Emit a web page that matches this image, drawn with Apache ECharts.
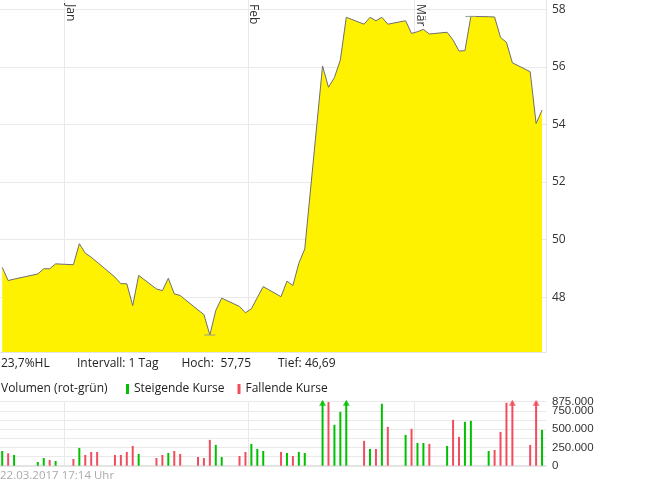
<!DOCTYPE html>
<html><head><meta charset="utf-8">
<script src="https://cdn.jsdelivr.net/npm/echarts@6/dist/echarts.min.js"></script>
<style>html,body{margin:0;padding:0;background:#fff}#c{width:645px;height:483px}</style>
</head><body><div id="c"></div>
<script>
// ---- data ----
const dates = [
 '2016-12-21','2016-12-22','2016-12-23','2016-12-27','2016-12-28','2016-12-29','2016-12-30',
 '2017-01-02','2017-01-03','2017-01-04','2017-01-05','2017-01-06','2017-01-09','2017-01-10','2017-01-11','2017-01-12','2017-01-13',
 '2017-01-16','2017-01-17','2017-01-18','2017-01-19','2017-01-20','2017-01-23','2017-01-24','2017-01-25','2017-01-26','2017-01-27',
 '2017-01-30','2017-01-31','2017-02-01','2017-02-02','2017-02-03','2017-02-06','2017-02-07','2017-02-08','2017-02-09','2017-02-10',
 '2017-02-13','2017-02-14','2017-02-15','2017-02-16','2017-02-17','2017-02-20','2017-02-21','2017-02-22','2017-02-23','2017-02-24',
 '2017-02-27','2017-02-28','2017-03-01','2017-03-02','2017-03-03','2017-03-06','2017-03-07','2017-03-08','2017-03-09','2017-03-10',
 '2017-03-13','2017-03-14','2017-03-15','2017-03-16','2017-03-17','2017-03-20','2017-03-21','2017-03-22'
];
const closes = [
 49.04,48.58,48.63,48.81,48.99,48.99,49.16,
 49.13,49.86,49.53,49.39,49.22,48.70,48.47,48.47,47.71,48.76,
 48.29,48.23,48.66,48.12,48.06,47.56,47.40,46.69,47.54,47.97,
 47.68,47.46,47.60,47.99,48.37,48.02,48.56,48.41,49.18,49.68,
 56.03,55.29,55.63,56.24,57.72,57.48,57.72,57.60,57.72,57.48,
 57.60,57.16,57.22,57.30,57.14,57.20,56.93,56.55,56.56,57.75,
 57.74,57.73,57.02,56.85,56.14,55.83,54.03,54.50
];
const volumes = [
 201000,169000,147000,50000,105000,78000,64000,
 92000,243000,147000,188000,188000,147000,147000,188000,270000,160000,
 105000,147000,174000,201000,160000,119000,105000,353000,284000,119000,
 133000,188000,298000,229000,201000,188000,174000,133000,188000,174000,
 1450000,870000,559000,737000,1100000,339000,229000,229000,847000,531000,
 421000,504000,311000,311000,298000,270000,627000,394000,600000,614000,
 201000,215000,462000,861000,1050000,284000,1200000,490000
];
const dirs = [
 'u','d','u','u','u','d','u',
 'd','u','d','d','d','d','d','d','d','u',
 'd','d','u','d','d','d','d','d','u','u',
 'd','d','u','u','u','d','u','d','u','u',
 'u','d','u','u','u','d','u','d','u','d',
 'u','d','u','u','d','u','d','d','u','u',
 'u','d','d','d','d','d','d','u'
];
const priceTicks = [48, 50, 52, 54, 56, 58];
const volLabelTicks = [0, 250000, 500000, 750000];
const volMax = 875000;
const monthStarts = ['2017-01-01', '2017-02-01', '2017-03-01'];
const monthNames = ['Jan','Feb','Mär','Apr','Mai','Jun','Jul','Aug','Sep','Okt','Nov','Dez'];
const infoTexts = ['23,7%HL', 'Intervall: 1 Tag', 'Hoch:', '57,75', 'Tief:', '46,69'];

// ---- build ----
function t(s, h) { const p = s.split('-').map(Number); return Date.UTC(p[0], p[1] - 1, p[2], h); }
const xMin = t('2016-12-21', 5), xMax = t('2017-03-23', 6);
const times = dates.map(d => t(d, 14));
const monthT = monthStarts.map(d => t(d, 0));
const priceData = times.map((x, i) => [x, closes[i]]);
const upData = times.map((x, i) => dirs[i] === 'u' ? [x, volumes[i]] : [x, null]);
const downData = times.map((x, i) => dirs[i] === 'd' ? [x, volumes[i]] : [x, null]);
const upArrows = times.map((x, i) => (dirs[i] === 'u' && volumes[i] > volMax) ? [x, volMax] : null).filter(Boolean);
const downArrows = times.map((x, i) => (dirs[i] === 'd' && volumes[i] > volMax) ? [x, volMax] : null).filter(Boolean);
const fmtDE = v => String(v).replace(/\B(?=(\d{3})+(?!\d))/g, '.');
const GREEN = '#00c000', RED = '#f24d5e', GRID = '#e9e9e9';
const FONT = '"Open Sans", sans-serif';
const VFONT = '"Liberation Sans", Arial, sans-serif';
const TXT = c => ({ font: '12px ' + FONT, fill: c || '#222' });

const chart = echarts.init(document.getElementById('c'), null, { renderer: 'canvas' });
chart.setOption({
  animation: false,
  textStyle: { fontFamily: FONT },
  grid: [
    { left: 0, top: 0, width: 546, height: 352, outerBoundsMode: 'none' },
    { left: 0, top: 401.7, width: 546, height: 64, outerBoundsMode: 'none' }
  ],
  legend: {
    left: 126, top: 383, padding: 0, itemWidth: 3, itemHeight: 10, itemGap: 13,
    icon: 'rect', selectedMode: false,
    textStyle: { fontSize: 12, color: '#222', fontFamily: FONT },
    data: ['Steigende Kurse', 'Fallende Kurse']
  },
  xAxis: [
    { type: 'value', gridIndex: 0, position: 'top', min: xMin, max: xMax,
      axisLine: { show: false },
      axisTick: { show: false, customValues: monthT },
      axisLabel: { inside: true, rotate: 90, margin: 4, verticalAlign: 'bottom', customValues: monthT,
        fontSize: 12, color: '#333', fontFamily: FONT, hideOverlap: false,
        formatter: v => monthNames[new Date(v).getUTCMonth()] },
      splitLine: { show: true, lineStyle: { color: GRID, width: 1 } } },
    { type: 'value', gridIndex: 0, position: 'bottom', min: xMin, max: xMax,
      axisLine: { show: true, lineStyle: { color: '#e4e4e4' } },
      axisTick: { show: false }, axisLabel: { show: false }, splitLine: { show: false } },
    { type: 'value', gridIndex: 1, position: 'bottom', min: xMin, max: xMax,
      axisLine: { show: true, lineStyle: { color: '#e4e4e4', width: 2 } },
      axisTick: { show: false, customValues: monthT },
      axisLabel: { show: false, customValues: monthT },
      splitLine: { show: true, lineStyle: { color: GRID, width: 1 } } }
  ],
  yAxis: [
    { type: 'value', gridIndex: 0, position: 'right', min: 46.1, max: 58.32,
      axisLine: { show: true, lineStyle: { color: '#e4e4e4' } },
      axisTick: { show: false, customValues: priceTicks },
      axisLabel: { customValues: priceTicks, margin: 6, fontSize: 12, color: '#333', fontFamily: FONT },
      splitLine: { show: true, lineStyle: { color: GRID } } },
    { type: 'value', gridIndex: 1, position: 'right', min: 0, max: volMax, interval: 125000,
      axisLine: { show: false }, axisTick: { show: false },
      axisLabel: { customValues: volLabelTicks, margin: 6, fontSize: 11.5, color: '#333',
        fontFamily: VFONT, hideOverlap: false, formatter: v => fmtDE(v) },
      splitLine: { show: true, lineStyle: { color: GRID } } },
    { type: 'value', gridIndex: 1, position: 'right', offset: 0, min: 0, max: volMax,
      axisLine: { show: false }, axisTick: { show: false }, splitLine: { show: false },
      axisLabel: { customValues: [volMax], margin: 6, fontSize: 11.5, color: '#333',
        fontFamily: VFONT, showMaxLabel: true, formatter: v => fmtDE(v) } }
  ],
  series: [
    { type: 'line', name: 'Kurs', xAxisIndex: 0, yAxisIndex: 0, data: priceData,
      showSymbol: false, symbol: 'none', silent: true,
      lineStyle: { color: '#6e6e6e', width: 1 },
      areaStyle: { color: '#fff200', opacity: 1, origin: 'start' },
      markPoint: { symbol: 'rect', symbolSize: [11, 1], silent: true,
        itemStyle: { color: '#9a9a9a' }, label: { show: false },
        data: [{ type: 'max' }, { type: 'min' }] } },
    { type: 'bar', name: 'Steigende Kurse', xAxisIndex: 2, yAxisIndex: 1, data: upData,
      barWidth: 2, barGap: '-100%', itemStyle: { color: GREEN }, silent: true },
    { type: 'bar', name: 'Fallende Kurse', xAxisIndex: 2, yAxisIndex: 1, data: downData,
      barWidth: 2, barGap: '-100%', itemStyle: { color: RED }, silent: true },
    { type: 'scatter', name: 'upArrow', xAxisIndex: 2, yAxisIndex: 1, data: upArrows,
      symbol: 'triangle', symbolSize: [7, 6], symbolOffset: [0, 1], itemStyle: { color: GREEN }, silent: true, clip: false },
    { type: 'scatter', name: 'downArrow', xAxisIndex: 2, yAxisIndex: 1, data: downArrows,
      symbol: 'triangle', symbolSize: [7, 6], symbolOffset: [0, 1], itemStyle: { color: RED }, silent: true, clip: false }
  ],
  graphic: [
    { type: 'text', left: 1, top: 358, style: Object.assign({ text: infoTexts[0] }, TXT()) },
    { type: 'text', left: 77, top: 358, style: Object.assign({ text: infoTexts[1] }, TXT()) },
    { type: 'text', left: 181.5, top: 358, style: Object.assign({ text: infoTexts[2] }, TXT()) },
    { type: 'text', left: 220.5, top: 358, style: Object.assign({ text: infoTexts[3] }, TXT()) },
    { type: 'text', left: 278, top: 358, style: Object.assign({ text: infoTexts[4] }, TXT()) },
    { type: 'text', left: 305, top: 358, style: Object.assign({ text: infoTexts[5] }, TXT()) },
    { type: 'text', left: 1, top: 383, style: Object.assign({ text: 'Volumen (rot-grün)' }, TXT()) },
    { type: 'text', left: 0, top: 470, style: { text: '22.03.2017 17:14 Uhr', font: '11.5px ' + FONT, fill: '#aaaaaa' } }
  ]
});
</script></body></html>
